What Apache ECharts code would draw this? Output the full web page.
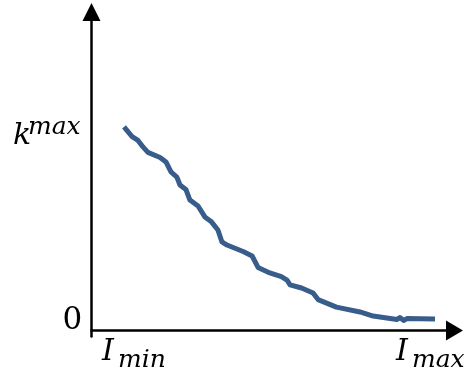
<!DOCTYPE html>
<html>
<head>
<meta charset="utf-8">
<script src="https://cdn.jsdelivr.net/npm/echarts@6/dist/echarts.min.js"></script>
<style>
html,body{margin:0;padding:0;background:#fff;}
#chart{width:464px;height:380px;}
</style>
</head>
<body>
<div id="chart"></div>
<script>
// ---- data (I normalised: 0 = I_min, 1 = I_max; k normalised: 1 = k^max) ----
const iValues = [0.000,0.026,0.045,0.061,0.077,0.116,0.135,0.151,0.170,0.180,0.199,0.212,0.238,0.260,0.280,0.302,0.315,0.331,0.383,0.412,0.431,0.469,0.506,0.524,0.534,0.571,0.608,0.624,0.683,0.759,0.801,0.878,0.887,0.900,0.910,1.000];
const kValues = [1.000,0.953,0.934,0.902,0.875,0.850,0.828,0.779,0.754,0.715,0.693,0.641,0.612,0.558,0.536,0.494,0.435,0.420,0.388,0.366,0.310,0.283,0.265,0.248,0.224,0.209,0.184,0.152,0.115,0.091,0.071,0.054,0.064,0.049,0.059,0.057];

const xTickValues = [0, 1];
const xTickMain = ['I', 'I'];
const xTickSub = ['min', 'max'];
const yTickValues = [0, 1];
const yTickMain = ['0', 'k'];
const yTickSup = ['', 'max'];

// ---- layout / style ----
const X_MIN = -0.1045, X_MAX = 1.0627;
const Y_MIN = -0.0295, Y_MAX = 1.565;
const MAIN_SIZE = 30, SMALL_SIZE = 25, ZERO_SIZE = 31;
const FONT = 'DejaVu Serif';
const MID = 0.35; // baseline offset from middle, in em

const chart = echarts.init(document.getElementById('chart'), null, {renderer: 'canvas'});
const series = iValues.map((x, i) => [x, kValues[i]]);

chart.setOption({
  animation: false,
  backgroundColor: '#ffffff',
  grid: {left: 91.5, right: 9.5, top: 12, bottom: 43.5, containLabel: false},
  xAxis: {
    type: 'value', min: X_MIN, max: X_MAX,
    axisLine: {show: true, onZero: true, symbol: ['none', 'triangle'], symbolSize: [20, 17], lineStyle: {color: '#000', width: 2.5}},
    axisTick: {show: false}, axisLabel: {show: false}, splitLine: {show: false}
  },
  yAxis: {
    type: 'value', min: Y_MIN, max: Y_MAX,
    axisLine: {show: true, onZero: false, symbol: ['none', 'triangle'], symbolSize: [18, 18], lineStyle: {color: '#000', width: 2.5}},
    axisTick: {show: false}, axisLabel: {show: false}, splitLine: {show: false}
  },
  series: [{
    type: 'line', data: series, showSymbol: false, smooth: false,
    lineStyle: {color: '#385D8A', width: 5, join: 'round', cap: 'butt'}
  }]
});

// tick labels placed through the axis scales
const labelOffsets = {
  y: [{dx: -29, dy: 1, subDx: 0, subDy: 0}, {dx: -78.5, dy: 20, subDx: 15, subDy: -11}],
  x: [{dx: -22, dy: 32.5, subDx: 16, subDy: 6}, {dx: -39, dy: 32.5, subDx: 16, subDy: 6}]
};
function txt(x, baseline, s, size, italic) {
  return {type: 'text', x: x, y: baseline - MID * size, z: 100,
    style: {text: s, fill: '#000', fontSize: size, fontFamily: FONT, fontStyle: italic ? 'italic' : 'normal', fontWeight: 'normal', align: 'left', verticalAlign: 'middle'}};
}
const g = [];
yTickValues.forEach((v, i) => {
  const p = chart.convertToPixel({gridIndex: 0}, [X_MIN, v]);
  const o = labelOffsets.y[i];
  const italic = yTickMain[i] !== '0';
  const size = italic ? MAIN_SIZE : ZERO_SIZE;
  g.push(txt(p[0] + o.dx, p[1] + o.dy, yTickMain[i], size, italic));
  if (yTickSup[i]) g.push(txt(p[0] + o.dx + o.subDx, p[1] + o.dy + o.subDy, yTickSup[i], SMALL_SIZE, true));
});
xTickValues.forEach((v, i) => {
  const p = chart.convertToPixel({gridIndex: 0}, [v, 0]);
  const o = labelOffsets.x[i];
  g.push(txt(p[0] + o.dx, p[1] + o.dy, xTickMain[i], MAIN_SIZE, true));
  g.push(txt(p[0] + o.dx + o.subDx, p[1] + o.dy + o.subDy, xTickSub[i], SMALL_SIZE, true));
});
chart.setOption({graphic: g});
</script>
</body>
</html>
